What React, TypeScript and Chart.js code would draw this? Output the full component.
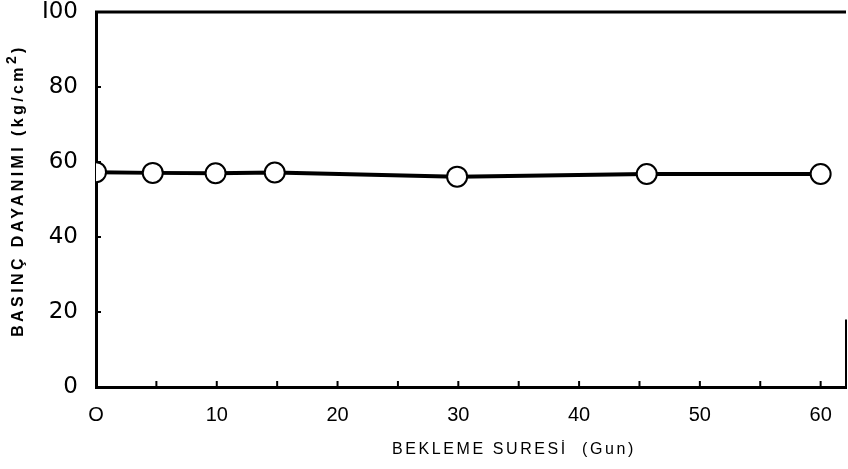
import React, { useEffect, useRef } from "react";
import { Chart, registerables } from "chart.js";

Chart.register(...registerables);

const days = [0, 4.7, 9.9, 14.8, 29.9, 45.6, 60];
const strength = [57.3, 57.1, 57.0, 57.2, 56.1, 56.8, 56.8];
const xTickValues = [0, 5, 10, 15, 20, 25, 30, 35, 40, 45, 50, 55, 60];
const xTickLabels: Record<number, string> = { 0: "O", 10: "10", 20: "20", 30: "30", 40: "40", 50: "50", 60: "60" };
const yTickLabels: Record<number, string> = { 0: "0", 20: "20", 40: "40", 60: "60", 80: "80", 100: "I00" };
const xTitle = "BEKLEME SURESİ  (Gun)";
const yTitleMain = "BASINÇ DAYANIMI (kg/cm";
const yTitleSup = "2";
const yTitleEnd = ")";

const framePlugin = {
  id: "frame",
  afterDraw(chart: any) {
    const { ctx, chartArea } = chart;
    const xs = chart.scales.x;
    const ys = chart.scales.y;
    ctx.save();
    ctx.strokeStyle = "#000";
    ctx.lineWidth = 3;
    ctx.beginPath();
    ctx.moveTo(chartArea.left - 1, chartArea.top);
    ctx.lineTo(chartArea.right, chartArea.top);
    ctx.stroke();
    ctx.lineWidth = 2;
    ctx.beginPath();
    ctx.moveTo(chartArea.right, ys.getPixelForValue(18));
    ctx.lineTo(chartArea.right, chartArea.bottom);
    ctx.stroke();
    ctx.lineWidth = 2;
    xs.ticks.forEach((t: any) => {
      if (t.value === 0) return;
      const px = xs.getPixelForValue(t.value);
      ctx.beginPath();
      ctx.moveTo(px, chartArea.bottom);
      ctx.lineTo(px, chartArea.bottom - 6);
      ctx.stroke();
    });
    ys.ticks.forEach((t: any) => {
      if (t.value === 0 || t.value === 100) return;
      const py = ys.getPixelForValue(t.value);
      ctx.beginPath();
      ctx.moveTo(chartArea.left, py);
      ctx.lineTo(chartArea.left + 5, py);
      ctx.stroke();
    });
    // x title
    ctx.fillStyle = "#000";
    ctx.font = "16px 'Liberation Sans', Arial, sans-serif";
    (ctx as any).letterSpacing = "2.6px";
    ctx.textAlign = "center";
    ctx.textBaseline = "middle";
    ctx.fillText(xTitle, xs.getPixelForValue(34.6), 450);
    // y title (rotated)
    ctx.translate(19, ys.getPixelForValue(50) - 9);
    ctx.rotate(-Math.PI / 2);
    const mainFont = "bold 16px 'Liberation Sans', Arial, sans-serif";
    const supFont = "bold 14px 'Liberation Sans', Arial, sans-serif";
    ctx.font = mainFont;
    (ctx as any).letterSpacing = "3.4px";
    ctx.textAlign = "left";
    const wMain = ctx.measureText(yTitleMain).width;
    ctx.font = supFont;
    const wSup = ctx.measureText(yTitleSup).width;
    ctx.font = mainFont;
    const wEnd = ctx.measureText(yTitleEnd).width;
    const total = wMain + wSup + wEnd;
    let x0 = -total / 2;
    ctx.fillText(yTitleMain, x0, 0);
    x0 += wMain;
    ctx.font = supFont;
    ctx.fillText(yTitleSup, x0, -7);
    x0 += wSup;
    ctx.font = mainFont;
    ctx.fillText(yTitleEnd, x0, 0);
    ctx.restore();
  },
};

export default function App() {
  const ref = useRef<HTMLCanvasElement>(null);
  useEffect(() => {
    document.body.style.margin = "0";
    const chart = new Chart(ref.current!, {
      type: "line",
      data: {
        datasets: [
          {
            data: days.map((d, i) => ({ x: d, y: strength[i] })),
            borderColor: "#000",
            borderWidth: 4,
            pointRadius: 10,
            pointBorderWidth: 2,
            pointBackgroundColor: "#fff",
            pointBorderColor: "#000",
            tension: 0,
            clip: { left: 0, top: false, right: false, bottom: false },
          } as any,
        ],
      },
      options: {
        animation: false,
        responsive: false,
        layout: { autoPadding: false, padding: { left: 0, right: 2, top: 12, bottom: 0 } },
        plugins: { legend: { display: false }, tooltip: { enabled: false } },
        scales: {
          x: {
            type: "linear",
            min: 0,
            max: 62.1,
            afterBuildTicks(s: any) {
              s.ticks = xTickValues.map((v) => ({ value: v }));
            },
            afterFit(s: any) {
              s.height = 82;
              s.paddingLeft = 0;
              s.paddingRight = 0;
            },
            grid: { display: false, drawTicks: false },
            border: { display: true, color: "#000", width: 3 },
            ticks: {
              autoSkip: false,
              maxRotation: 0,
              padding: 16,
              color: "#000",
              font: { family: "'Liberation Sans', Arial, sans-serif", size: 20 },
              callback: (v: any) => xTickLabels[v] ?? "",
            },
          },
          y: {
            min: 0,
            max: 100,
            afterFit(s: any) {
              s.width = 96;
              s.paddingTop = 0;
              s.paddingBottom = 0;
            },
            grid: { display: false, drawTicks: false },
            border: { display: true, color: "#000", width: 3 },
            ticks: {
              stepSize: 20,
              padding: 18,
              color: "#000",
              font: { family: "'DejaVu Sans', sans-serif", size: 23 },
              callback: (v: any) => yTickLabels[v] ?? "",
            },
          },
        },
      },
      plugins: [framePlugin],
    });
    return () => chart.destroy();
  }, []);
  return (
    <div style={{ width: 848, height: 469 }}>
      <canvas ref={ref} width={848} height={469} />
    </div>
  );
}
